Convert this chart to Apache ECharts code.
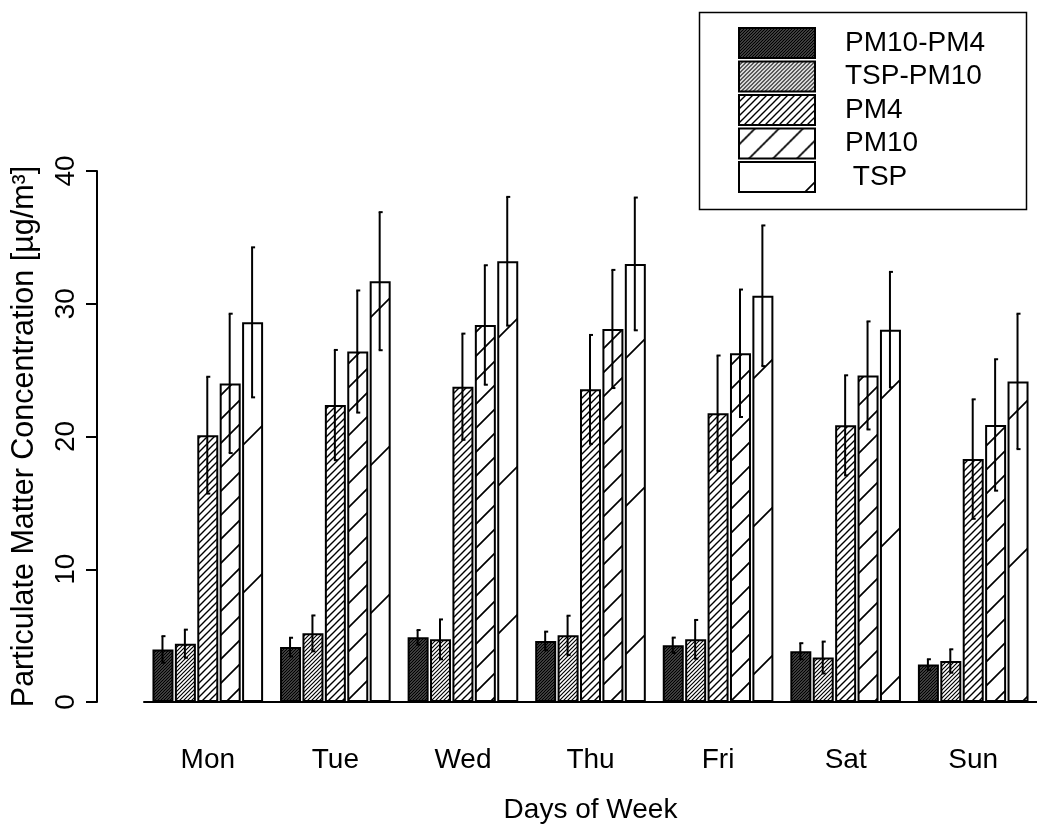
<!DOCTYPE html>
<html>
<head>
<meta charset="utf-8">
<script src="https://cdn.jsdelivr.net/npm/echarts@6/dist/echarts.min.js"></script>
<style>
  html, body { margin: 0; padding: 0; background: #fff; }
  #chart { width: 1037px; height: 825px; }
</style>
</head>
<body>
<div id="chart"></div>
<script>
// Weekly mean particulate matter concentrations with standard deviations
const days = ['Mon', 'Tue', 'Wed', 'Thu', 'Fri', 'Sat', 'Sun'];
const seriesNames = ['PM10-PM4', 'TSP-PM10', 'PM4', 'PM10', 'TSP'];

const pm10pm4    = [3.96, 4.14, 4.87, 4.60, 4.27, 3.83, 2.82];
const pm10pm4Sd  = [1.00, 0.70, 0.55, 0.70, 0.58, 0.60, 0.40];
const tspPm10    = [4.39, 5.17, 4.72, 5.02, 4.72, 3.35, 3.09];
const tspPm10Sd  = [1.06, 1.35, 1.50, 1.48, 1.46, 1.20, 0.88];
const pm4        = [20.1, 22.37, 23.75, 23.55, 21.75, 20.84, 18.3];
const pm4Sd      = [4.40, 4.15, 4.00, 4.10, 4.35, 3.77, 4.50];
const pm10       = [24.0, 26.4, 28.4, 28.1, 26.27, 24.6, 20.87];
const pm10Sd     = [5.25, 4.60, 4.50, 4.45, 4.80, 4.07, 4.95];
const tsp        = [28.6, 31.7, 33.2, 33.0, 30.6, 28.05, 24.15];
const tspSd      = [5.65, 5.20, 4.85, 5.00, 5.30, 4.35, 5.10];

const yTicks = { min: 0, max: 40, interval: 10 };

const FONT = '"Liberation Sans", Arial, sans-serif';
const BAR_W = 21;
const BAR_GAP = 0.067;
const PITCH = BAR_W * (1 + BAR_GAP);

// Diagonal hatch tile: white ground with "/" lines x + y = phase (mod step)
function hatch(step, lw, phase) {
  const c = document.createElement('canvas');
  c.width = step; c.height = step;
  const ctx = c.getContext('2d');
  ctx.fillStyle = '#fff';
  ctx.fillRect(0, 0, step, step);
  ctx.strokeStyle = '#000';
  ctx.lineWidth = lw;
  ctx.beginPath();
  for (let k = -1; k <= 2; k++) {
    const s = phase + k * step;
    ctx.moveTo(-3, s + 3);
    ctx.lineTo(step + 3, s - step - 3);
  }
  ctx.stroke();
  return { image: c, repeat: 'repeat' };
}

const fills = [hatch(3, 1.8, 0), hatch(4, 1.2, 0), hatch(7, 1.4, 0), hatch(24, 1.7, 16), hatch(148, 1.7, 96)];
const values = [pm10pm4, tspPm10, pm4, pm10, tsp];
const sds = [pm10pm4Sd, tspPm10Sd, pm4Sd, pm10Sd, tspSd];

const barSeries = seriesNames.map((name, i) => ({
  type: 'bar',
  name: name,
  data: values[i],
  barWidth: BAR_W,
  barGap: (BAR_GAP * 100) + '%',
  itemStyle: { color: fills[i], borderColor: '#000', borderWidth: 2 },
  emphasis: { disabled: true },
  z: 2
}));

// Error bars: vertical whisker through each bar with short caps to the right
const errSeries = seriesNames.map((name, i) => ({
  type: 'custom',
  name: name + ' sd',
  data: days.map((d, k) => [k, values[i][k], sds[i][k]]),
  encode: { x: 0, y: 1 },
  z: 5,
  silent: true,
  renderItem: (params, api) => {
    const k = api.value(0), v = api.value(1), e = api.value(2);
    const hi = api.coord([k, v + e]);
    const lo = api.coord([k, v - e]);
    const x = hi[0] + (i - 2) * PITCH - 0.5;
    const st = { stroke: '#000', lineWidth: 2 };
    return {
      type: 'group',
      children: [
        { type: 'line', shape: { x1: x, y1: hi[1], x2: x, y2: lo[1] }, style: st },
        { type: 'line', shape: { x1: x - 1, y1: hi[1], x2: x + 3, y2: hi[1] }, style: st },
        { type: 'line', shape: { x1: x - 1, y1: lo[1], x2: x + 3, y2: lo[1] }, style: st }
      ]
    };
  }
}));

const chart = echarts.init(document.getElementById('chart'), null, { renderer: 'canvas' });
chart.setOption({
  animation: false,
  backgroundColor: '#fff',
  textStyle: { fontFamily: FONT, color: '#000' },
  grid: { left: 144, right: 0, top: 171, bottom: 123, outerBoundsMode: 'none', containLabel: false },
  legend: {
    data: seriesNames,
    orient: 'vertical',
    left: 733,
    top: 22,
    icon: 'rect',
    itemWidth: 76,
    itemHeight: 30,
    itemGap: 1.5,
    selectedMode: false,
    formatter: n => (n === 'TSP' ? ' TSP' : n),
    textStyle: { fontSize: 28, color: '#000', fontFamily: FONT, lineHeight: 26, padding: [6, 0, 0, 25] }
  },
  graphic: [{
    type: 'rect',
    left: 697, top: 10,
    shape: { width: 327, height: 197 },
    style: { fill: 'none', stroke: '#000', lineWidth: 1.5 },
    z: 100
  }],
  xAxis: {
    type: 'category',
    data: days,
    axisLine: { lineStyle: { color: '#000', width: 2 } },
    axisTick: { show: false },
    axisLabel: { fontSize: 28, color: '#000', margin: 44, fontFamily: FONT },
    name: 'Days of Week',
    nameLocation: 'middle',
    nameGap: 94,
    nameTextStyle: { fontSize: 28, color: '#000', fontFamily: FONT }
  },
  yAxis: {
    type: 'value',
    min: yTicks.min, max: yTicks.max, interval: yTicks.interval,
    offset: 47,
    axisLine: { show: true, lineStyle: { color: '#000', width: 2 } },
    axisTick: { show: true, length: 11, lineStyle: { color: '#000', width: 2 } },
    splitLine: { show: false },
    axisLabel: { rotate: 90, fontSize: 28, color: '#000', margin: 17, fontFamily: FONT },
    name: 'Particulate Matter Concentration [µg/m³]',
    nameLocation: 'middle',
    nameRotate: 90,
    nameGap: 57,
    nameTextStyle: { fontSize: 30.5, color: '#000', fontFamily: FONT }
  },
  series: barSeries.concat(errSeries)
});
</script>
</body>
</html>
